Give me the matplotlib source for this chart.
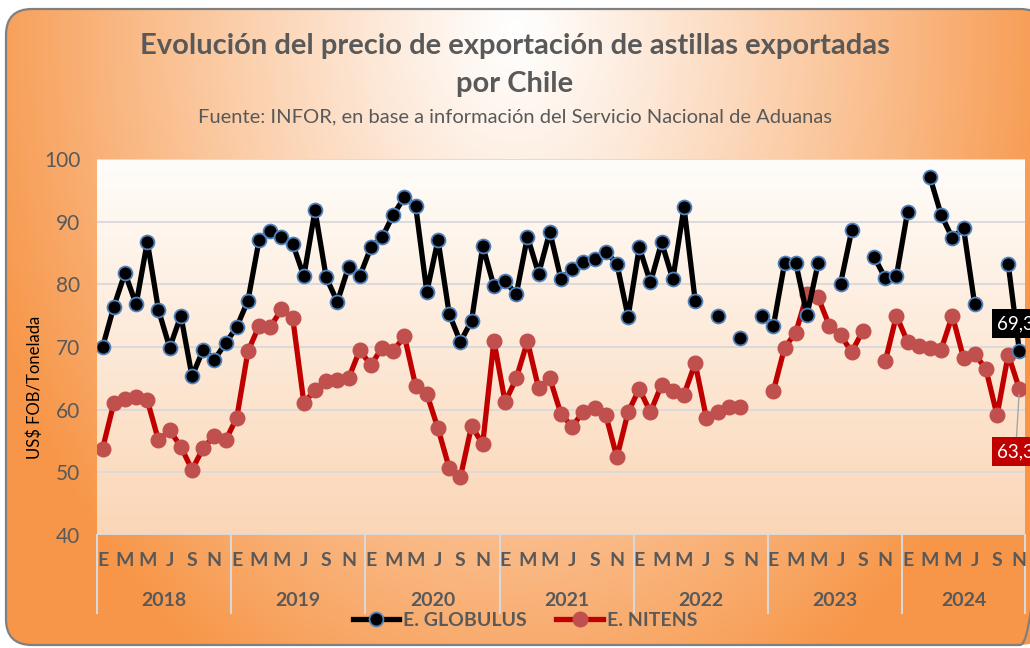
import matplotlib.pyplot as plt
import numpy as np
from matplotlib.patches import FancyBboxPatch
from matplotlib.transforms import blended_transform_factory
from matplotlib.lines import Line2D

nan = np.nan

years = ['2018', '2019', '2020', '2021', '2022', '2023', '2024']
months_per_year = [12, 12, 12, 12, 12, 12, 11]
month_labels = ['E', '', 'M', '', 'M', '', 'J', '', 'S', '', 'N', '']

globulus = [
    70.0, 76.4, 81.8, 76.8, 86.8, 75.9, 69.9, 75.0, 65.3, 69.6, 68.0, 70.6,
    73.2, 77.4, 87.1, 88.5, 87.6, 86.5, 81.3, 91.8, 81.1, 77.2, 82.8, 81.3,
    85.9, 87.5, 91.1, 93.9, 92.5, 78.8, 87.1, 75.3, 70.8, 74.2, 86.1, 79.7,
    80.5, 78.4, 87.6, 81.7, 88.4, 80.8, 82.5, 83.6, 84.1, 85.2, 83.3, 74.8,
    85.9, 80.3, 86.7, 80.8, 92.3, 77.4, nan, 74.9, nan, 71.4, nan, 74.9,
    73.4, 83.4, 83.4, 75.1, 83.4, nan, 80.1, 88.6, nan, 84.4, 81.0, 81.3,
    91.6, nan, 97.1, 91.1, 87.4, 89.0, 76.8, nan, nan, 83.2, 69.3,
]
nitens = [
    53.8, 61.0, 61.7, 62.1, 61.5, 55.1, 56.7, 54.1, 50.4, 53.9, 55.8, 55.1,
    58.7, 69.3, 73.4, 73.2, 76.0, 74.7, 61.1, 63.1, 64.5, 64.8, 65.0, 69.5,
    67.1, 69.9, 69.4, 71.7, 63.8, 62.5, 57.0, 50.7, 49.2, 57.4, 54.5, 71.0,
    61.2, 65.0, 70.9, 63.4, 65.0, 59.3, 57.3, 59.7, 60.2, 59.2, 52.4, 59.6,
    63.3, 59.6, 64.0, 63.0, 62.4, 67.4, 58.7, 59.7, 60.5, 60.5, nan, nan,
    63.0, 69.9, 72.3, 78.4, 77.9, 73.4, 71.9, 69.2, 72.6, nan, 67.7, 75.0,
    70.8, 70.1, 69.9, 69.6, 75.0, 68.3, 68.9, 66.5, 59.1, 68.8, 63.3,
]

plt.rcParams['font.family'] = ['Lato', 'DejaVu Sans']
grey_txt = '#595959'
W, H = 1030, 648

fig = plt.figure(figsize=(W / 100, H / 100), dpi=100)
fig.patch.set_facecolor('white')

# outer rounded chart area with radial orange gradient
bg = fig.add_axes([0, 0, 1, 1], zorder=-10)
bg.set_xlim(0, W)
bg.set_ylim(H, 0)
bg.axis('off')
xx, yy = np.meshgrid(np.arange(W) + 0.5, np.arange(H) + 0.5)
t = np.clip(np.sqrt(((xx - 515) / 560) ** 2 + ((yy - 30) / 760) ** 2), 0, 1)
t = t[..., None] ** 1.1
c0 = np.array([255, 255, 255]) / 255
c1 = np.array([247, 150, 72]) / 255
im = bg.imshow(c0 * (1 - t) + c1 * t, extent=(0, W, H, 0), interpolation='bilinear')
box = FancyBboxPatch((6, 9), 1040, 636, boxstyle='round,pad=0,rounding_size=26',
                     fc='none', ec='#808080', lw=1.6)
bg.add_patch(box)
im.set_clip_path(box)

fig.text(0.5, 1 - 46 / H, 'Evolución del precio de exportación de astillas exportadas',
         ha='center', va='center', fontsize=21, fontweight='bold', color=grey_txt)
fig.text(0.5, 1 - 84 / H, 'por Chile', ha='center', va='center',
         fontsize=21, fontweight='bold', color=grey_txt)
fig.text(0.5, 1 - 117 / H, 'Fuente: INFOR, en base a información del Servicio Nacional de Aduanas',
         ha='center', va='center', fontsize=14.5, color=grey_txt)

ax = fig.add_axes([97 / W, (H - 535) / H, (1025 - 97) / W, (535 - 159) / H])
ax.patch.set_alpha(0)
n = len(globulus)
x = np.arange(n)
ax.set_xlim(-0.5, n - 0.5)
ax.set_ylim(40, 100)

grad = np.linspace(0, 1, 256)[:, None, None]
top = np.array([255, 253, 250]) / 255
bot = np.array([251, 214, 182]) / 255
ax.imshow(top * (1 - grad) + bot * grad, extent=(0, 1, 0, 1), transform=ax.transAxes,
          aspect='auto', zorder=0)

ax.set_yticks(range(40, 101, 10))
ax.set_xticks([])
ax.tick_params(axis='y', length=0, pad=12, labelsize=15, labelcolor=grey_txt)
for s in ax.spines.values():
    s.set_visible(False)
ax.grid(axis='y', color='#d9d9d9', lw=1.3, zorder=1)
ax.axhline(40, color='#d9d9d9', lw=1.5, zorder=1)

ax.plot(x, globulus, color='black', lw=3.8, marker='o', ms=10, mfc='black',
        mec='#4f81bd', mew=1.3, zorder=4, label='E. GLOBULUS')
ax.plot(x, nitens, color='#c00000', lw=3.8, marker='o', ms=10.5, mfc='#c0504d',
        mec='#c0504d', mew=1, zorder=3, label='E. NITENS')

# data labels for the last month
ax.annotate('69,3', (x[-1], globulus[-1]), xytext=(-16, 20), textcoords='offset points',
            ha='left', va='center', fontsize=13.5, color='white', zorder=6,
            bbox=dict(boxstyle='square,pad=0.3', fc='black', ec='none'))
ax.annotate('63,3', (x[-1], nitens[-1]), xytext=(-16, -45), textcoords='offset points',
            ha='left', va='center', fontsize=13.5, color='white', zorder=6,
            bbox=dict(boxstyle='square,pad=0.3', fc='#c00000', ec='none'),
            arrowprops=dict(arrowstyle='-', color='#a6a6a6', lw=1, shrinkA=0, shrinkB=4))

# two-level category axis
tr = blended_transform_factory(ax.transData, ax.transAxes)
y_month = (535 - 560) / 376
y_year = (535 - 600) / 376
y_sep = (535 - 613) / 376
start = 0
bounds = [-0.5]
for yr, nm in zip(years, months_per_year):
    for m in range(nm):
        if month_labels[m]:
            ax.text(start + m, y_month, month_labels[m], transform=tr, ha='center',
                    va='center', fontsize=14, fontweight='bold', color=grey_txt)
    ax.text(start + (nm - 1) / 2, y_year, yr, transform=tr, ha='center', va='center',
            fontsize=14, fontweight='bold', color=grey_txt)
    start += nm
    bounds.append(start - 0.5)
for b in bounds:
    ax.plot([b, b], [0, y_sep], transform=tr, color='#d9d9d9', lw=1.5, clip_on=False)

fig.text(35 / W, 1 - 387 / H, 'US$ FOB/Tonelada', rotation=90, ha='center',
         va='center', fontsize=12, color='black')

handles = [
    Line2D([], [], color='black', lw=3.8, marker='o', ms=10, mfc='black', mec='#4f81bd', mew=1.3),
    Line2D([], [], color='#c00000', lw=3.8, marker='o', ms=10.5, mfc='#c0504d', mec='#c0504d'),
]
leg = fig.legend(handles, ['E. GLOBULUS', 'E. NITENS'], loc='center',
                 bbox_to_anchor=(525 / W, 1 - 620 / H), ncol=2, frameon=False,
                 handlelength=2.4, handletextpad=0.2, columnspacing=1.5,
                 prop=dict(size=14, weight='bold'))
for txt in leg.get_texts():
    txt.set_color(grey_txt)

fig.savefig('out.png', dpi=100)
